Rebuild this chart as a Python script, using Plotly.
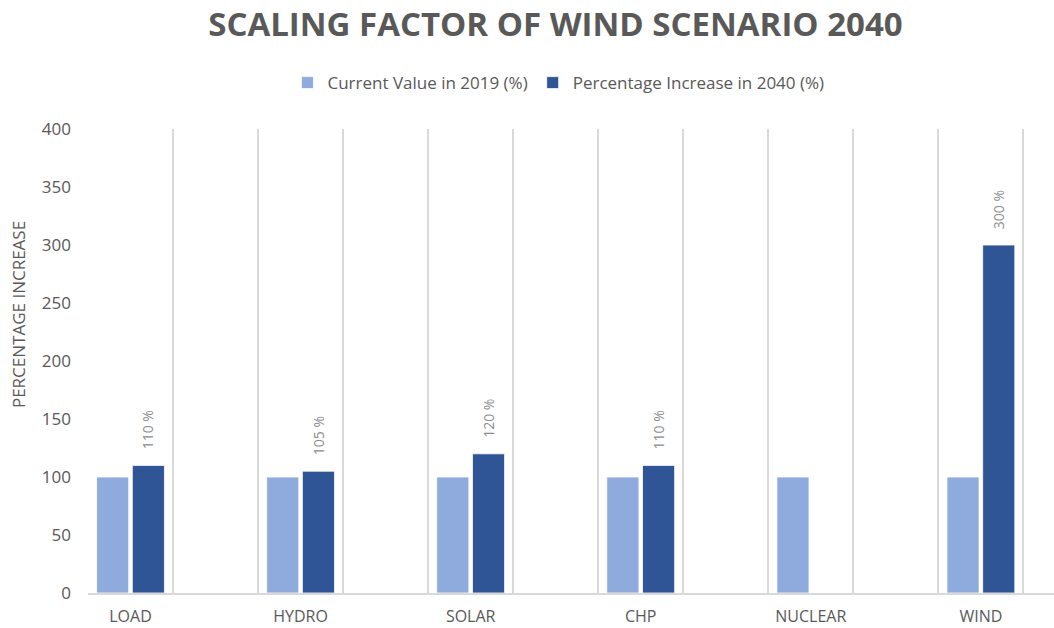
import plotly.graph_objects as go

categories = ["LOAD", "HYDRO", "SOLAR", "CHP", "NUCLEAR", "WIND"]
current_2019 = [100, 100, 100, 100, 100, 100]
increase_2040 = [110, 105, 120, 110, None, 300]
y_ticks = [0, 50, 100, 150, 200, 250, 300, 350, 400]

xpos = list(range(len(categories)))
gray = "#595959"
font = "Open Sans"
bargap = 0.58
dark_offset = (1 - bargap) / 4  # center of second bar within group

fig = go.Figure()
fig.add_trace(go.Bar(
    x=xpos, y=current_2019, name="Current Value in 2019 (%)",
    marker=dict(color="#8FAADC", line=dict(color="white", width=0.8)),
))
fig.add_trace(go.Bar(
    x=xpos, y=increase_2040, name="Percentage Increase in 2040 (%)",
    marker=dict(color="#2F5597", line=dict(color="white", width=0.8)),
))

annotations = [dict(text="PERCENTAGE INCREASE", xref="paper", yref="paper",
                    x=-0.072, y=0.6, xanchor="center", yanchor="middle",
                    textangle=-90, showarrow=False,
                    font=dict(family=font, size=17, color=gray))]
for xi, v in zip(xpos, increase_2040):
    if v is None:
        continue
    annotations.append(dict(text=f"{v} %", x=xi + dark_offset, y=v, xref="x", yref="y",
                            textangle=-90, showarrow=False, xanchor="center", yanchor="bottom",
                            yshift=14, font=dict(family=font, size=14, color="#8c8c8c")))

fig.update_layout(
    width=1054, height=628,
    margin=dict(l=88, r=0, t=129, b=35),
    paper_bgcolor="white", plot_bgcolor="white",
    barmode="group", bargap=bargap, bargroupgap=0.1,
    title=dict(text="<b>SCALING FACTOR OF WIND SCENARIO 2040</b>",
               x=0.527, xref="container", xanchor="center",
               y=1 - 24 / 628, yanchor="middle",
               font=dict(family=font, size=33, color=gray)),
    legend=dict(orientation="h", x=0.487, xanchor="center", y=1.099, yanchor="middle",
                font=dict(family=font, size=17, color=gray), traceorder="normal",
                itemwidth=30),
    showlegend=True,
    annotations=annotations,
)
fig.update_xaxes(
    range=[-0.25, 5.43], tickmode="array", tickvals=xpos, ticktext=categories,
    showgrid=False, zeroline=False, ticks="",
    showline=True, linecolor="#d9d9d9", linewidth=2,
    tickfont=dict(family=font, size=16, color=gray), ticklabelstandoff=8,
    minor=dict(tick0=-0.25, dtick=0.5, showgrid=True, gridcolor="#d9d9d9", gridwidth=2, ticks=""),
)
fig.update_yaxes(
    range=[0, 400], tickmode="array", tickvals=y_ticks,
    showgrid=False, zeroline=False, showline=False, ticks="",
    tickfont=dict(family=font, size=17, color=gray), ticklabelstandoff=16,
)
fig.write_html("out.html")
